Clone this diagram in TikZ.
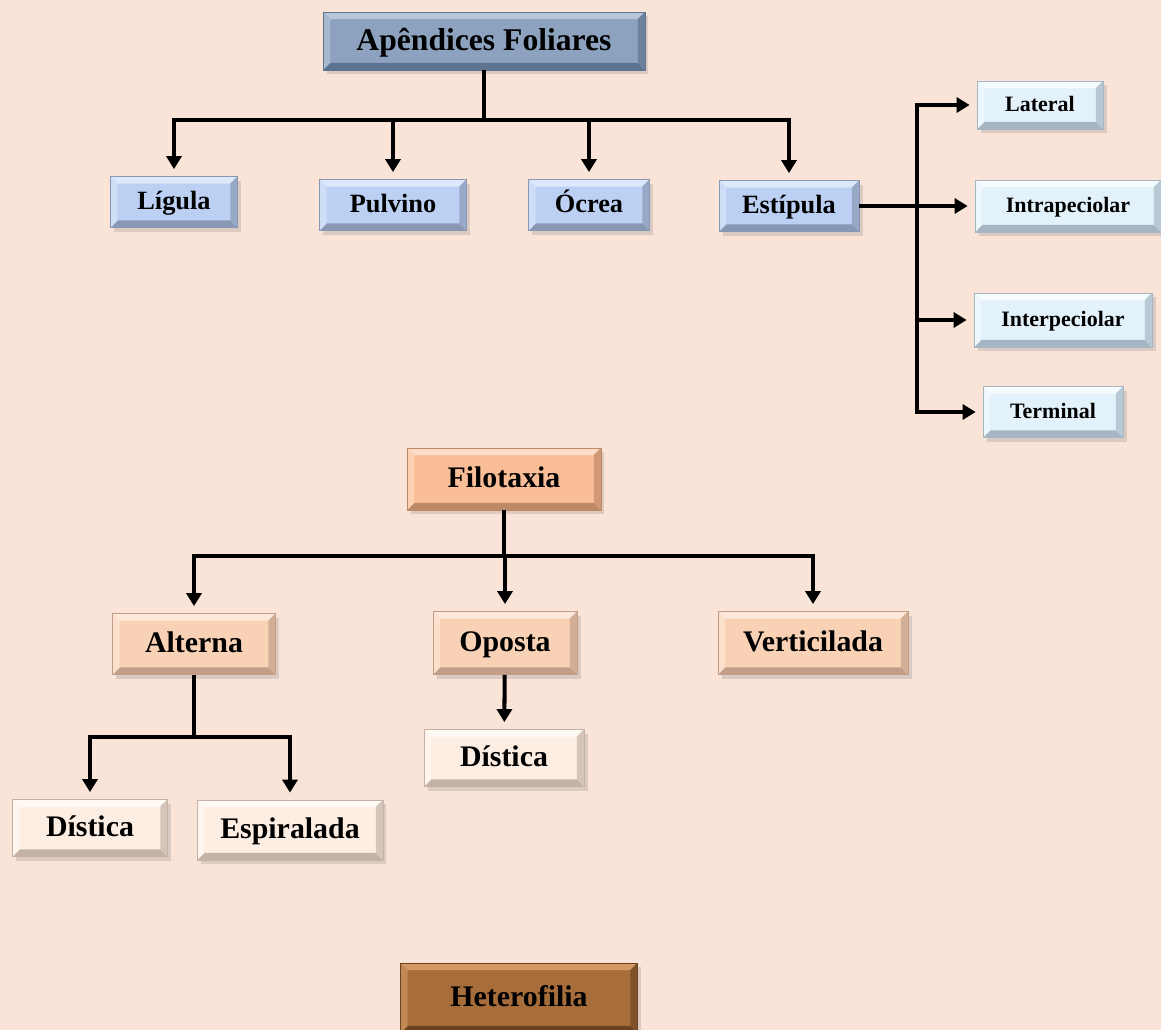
\documentclass[tikz,border=0pt]{standalone}
\usepackage{fontspec}
\setmainfont{Liberation Serif}
\usepackage{xcolor}
\usepackage{tikz}
\usetikzlibrary{arrows.meta,positioning,shadows,calc}
\definecolor{bgpeach}{HTML}{FAE4D7}
\definecolor{apfC}{HTML}{8DA2BE}\definecolor{apfL}{HTML}{B8C6DA}\definecolor{apfD}{HTML}{5E7390}
\definecolor{subC}{HTML}{BBD0F2}\definecolor{subL}{HTML}{DDE8FA}\definecolor{subD}{HTML}{8898B4}
\definecolor{stiC}{HTML}{E3F1FB}\definecolor{stiL}{HTML}{F6FBFE}\definecolor{stiD}{HTML}{A6B6C4}
\definecolor{filC}{HTML}{F9BE97}\definecolor{filL}{HTML}{FCDCC6}\definecolor{filD}{HTML}{BD8966}
\definecolor{typC}{HTML}{F9D2B6}\definecolor{typL}{HTML}{FDE9DB}\definecolor{typD}{HTML}{C29E88}
\definecolor{arrC}{HTML}{FDEEE4}\definecolor{arrL}{HTML}{FFF9F4}\definecolor{arrD}{HTML}{C4B2A6}
\definecolor{hetC}{HTML}{A76D3A}\definecolor{hetL}{HTML}{D39A66}\definecolor{hetD}{HTML}{6B431F}
\tikzset{
  bevel/.style n args={3}{fill=#1, draw=#3, line width=0.4pt,
    path picture={
      \path (path picture bounding box.north west) coordinate (bnw)
            (path picture bounding box.south east) coordinate (bse);
      \fill[#2] (bnw) -- (bse |- bnw) -- ([shift={(-4pt,-4pt)}]bse |- bnw) -- ([shift={(4pt,-4pt)}]bnw) -- cycle;
      \fill[#3] (bse) -- (bnw |- bse) -- ([shift={(4pt,4pt)}]bnw |- bse) -- ([shift={(-4pt,4pt)}]bse) -- cycle;
      \fill[#3!70!#1] (bse) -- (bse |- bnw) -- ([shift={(-4pt,-4pt)}]bse |- bnw) -- ([shift={(-4pt,4pt)}]bse) -- cycle;
      \fill[#2!60!#1] (bnw) -- (bnw |- bse) -- ([shift={(4pt,4pt)}]bnw |- bse) -- ([shift={(4pt,-4pt)}]bnw) -- cycle;
    }},
  box/.style={inner sep=0pt, align=center, text=black,
    drop shadow={shadow xshift=2pt, shadow yshift=-2.5pt, opacity=0.25}},
  headbox/.style={box, bevel={apfC}{apfL}{apfD}, font=\fontsize{18}{21}\selectfont\bfseries,
    text height=14.4pt, text depth=3.6pt},
  partbox/.style={box, bevel={subC}{subL}{subD}, font=\fontsize{15}{18}\selectfont\bfseries,
    text height=12pt, text depth=3pt},
  stipbox/.style={box, bevel={stiC}{stiL}{stiD}, font=\fontsize{12.5}{15}\selectfont\bfseries,
    text height=10pt, text depth=2.5pt},
  filbox/.style={box, bevel={filC}{filL}{filD}, font=\fontsize{17}{20}\selectfont\bfseries,
    text height=13.6pt, text depth=3.4pt},
  typbox/.style={box, bevel={typC}{typL}{typD}, font=\fontsize{17}{20}\selectfont\bfseries,
    text height=13.6pt, text depth=3.4pt},
  arrbox/.style={box, bevel={arrC}{arrL}{arrD}, font=\fontsize{17}{20}\selectfont\bfseries,
    text height=13.6pt, text depth=3.4pt},
  hetbox/.style={box, bevel={hetC}{hetL}{hetD}, font=\fontsize{17}{20}\selectfont\bfseries,
    text height=13.6pt, text depth=3.4pt},
  line/.style={line width=2.3pt, black},
  arrow/.style={line, -{Triangle[length=2.6mm, width=3mm]}, shorten >=4pt}
}
\begin{document}
\begin{tikzpicture}[x=0.02cm, y=-0.02cm]
  \fill[bgpeach] (0,0) rectangle (1161,1030);
  \useasboundingbox (0,0) rectangle (1161,1030);

  % apendices foliares
  \node[headbox, minimum width=6.44cm, minimum height=1.16cm] (apf) at (484,41) {Apêndices Foliares};
  \node[partbox, minimum width=2.54cm, minimum height=1.02cm] (lig) at (174,202) {Lígula};
  \node[partbox, minimum width=2.94cm, minimum height=1.02cm] (pul) at (393,205) {Pulvino};
  \node[partbox, minimum width=2.42cm, minimum height=1.02cm] (ocr) at (589,205) {Ócrea};
  \node[partbox, minimum width=2.80cm, minimum height=1.02cm] (est) at (789,206) {Estípula};
  \node[stipbox, minimum width=2.52cm, minimum height=0.96cm] (lat) at (1040,105) {Lateral};
  \node[stipbox, minimum width=3.72cm, minimum height=1.04cm] (intra) at (1068,206) {Intrapeciolar};
  \node[stipbox, minimum width=3.56cm, minimum height=1.08cm] (inter) at (1063,320) {Interpeciolar};
  \node[stipbox, minimum width=2.80cm, minimum height=1.02cm] (ter) at (1053,412) {Terminal};
  \coordinate (j1) at (484,120);
  \coordinate (j2) at (917,206);
  \draw[line] (apf) -- (j1);
  \foreach \n in {lig,pul,ocr,est}
    \draw[arrow] (j1) -| (\n);
  \draw[line] (est) -- (j2);
  \foreach \n in {lat,intra,inter,ter}
    \draw[arrow] (j2) |- (\n);

  % filotaxia
  \node[filbox, minimum width=3.88cm, minimum height=1.24cm] (fil) at (504,479) {Filotaxia};
  \node[typbox, minimum width=3.26cm, minimum height=1.22cm] (alt) at (194,644) {Alterna};
  \node[typbox, minimum width=2.88cm, minimum height=1.26cm] (opo) at (505,643) {Oposta};
  \node[typbox, minimum width=3.80cm, minimum height=1.26cm] (ver) at (813,643) {Verticilada};
  \node[arrbox, minimum width=3.20cm, minimum height=1.14cm] (disb) at (504,758) {Dística};
  \node[arrbox, minimum width=3.10cm, minimum height=1.14cm] (disa) at (90,828) {Dística};
  \node[arrbox, minimum width=3.72cm, minimum height=1.20cm] (esp) at (290,830) {Espiralada};
  \coordinate (j3) at (504,556);
  \coordinate (j4) at (194,737);
  \draw[line] (fil) -- (j3);
  \foreach \n in {alt,opo,ver}
    \draw[arrow] (j3) -| (\n);
  \draw[line] (alt) -- (j4);
  \foreach \n in {disa,esp}
    \draw[arrow] (j4) -| (\n);
  \draw[arrow] (opo) -- (disb);

  % heterofilia
  \node[hetbox, minimum width=4.74cm, minimum height=1.40cm] (het) at (519,998) {Heterofilia};
\end{tikzpicture}
\end{document}
